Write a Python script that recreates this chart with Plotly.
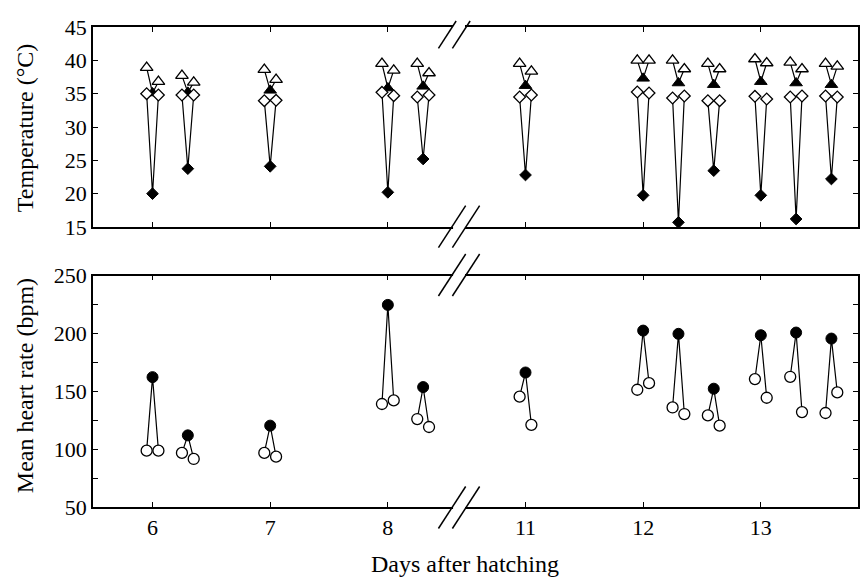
import plotly.graph_objects as go

# ---------------- data ----------------
sample_days = [6, 6.3, 7, 8, 8.3, 11, 12, 12.3, 12.6, 13, 13.3, 13.6]
day_ticks = [6, 7, 8, 11, 12, 13]

# Temperature (°C): open triangles (left/right), filled triangle (middle)
tri_left = [38.9, 37.7, 38.6, 39.5, 39.5, 39.5, 40.0, 40.0, 39.5, 40.2, 39.7, 39.5]
tri_mid = [35.1, 35.2, 35.5, 35.85, 36.1, 36.2, 37.3, 36.6, 36.35, 36.8, 36.6, 36.35]
tri_right = [36.8, 36.7, 37.1, 38.5, 38.1, 38.35, 40.0, 38.7, 38.7, 39.6, 38.7, 39.1]
# open diamonds (left/right), filled diamond (middle)
dia_left = [35.0, 34.8, 33.95, 35.2, 34.5, 34.5, 35.25, 34.35, 33.95, 34.6, 34.5, 34.65]
dia_mid = [20.0, 23.75, 24.1, 20.2, 25.2, 22.8, 19.75, 15.7, 23.45, 19.75, 16.2, 22.2]
dia_right = [34.8, 34.8, 34.0, 34.7, 34.8, 34.8, 35.1, 34.65, 33.95, 34.2, 34.65, 34.5]

# Mean heart rate (bpm)
hr_left = [98.7, 96.7, 96.7, 139, 126, 145.3, 151.3, 136, 129.1, 160.5, 162.5, 131.2]
hr_mid = [162.2, 111.9, 120.3, 224.6, 153.6, 166.2, 202.4, 199.6, 152.2, 198.4, 200.7, 195.5]
hr_right = [98.7, 91.5, 93.5, 142.1, 119.1, 121, 157, 130.3, 120.3, 144.4, 132, 149]

# ---------------- layout helpers ----------------
W, H = 861, 579
ML, MR, MT, MB = 93, 1, 27, 72
PW, PH = W - ML - MR, H - MT - MB
PAIR_OFF = 0.05
BREAK_AT = 10
POS_11 = 9.17


def xpos(d):
    return d if d < BREAK_AT else d - 11 + POS_11


def px(x):
    return (x - ML) / PW


def py(y):
    return (H - MB - y) / PH


FONT = "Liberation Serif"
BLACK = "#000000"

fig = go.Figure()


def add_triplet(left, mid, right, sym, yax, xax):
    xs, ys = [], []
    for d, a, b, c in zip(sample_days, left, mid, right):
        xc = xpos(d)
        xs += [xc - PAIR_OFF, xc, xc + PAIR_OFF, None]
        ys += [a, b, c, None]
    fig.add_trace(go.Scatter(x=xs, y=ys, mode="lines", xaxis=xax, yaxis=yax,
                             line=dict(color=BLACK, width=1.2), showlegend=False,
                             hoverinfo="skip", cliponaxis=False))
    size = {"triangle-up": 11, "diamond": 9, "circle": 11}[sym]
    fig.add_trace(go.Scatter(x=[xpos(d) for d in sample_days], y=mid, mode="markers",
                             xaxis=xax, yaxis=yax,
                             marker=dict(symbol=sym, size=size, color=BLACK,
                                         line=dict(color=BLACK, width=1)),
                             showlegend=False, cliponaxis=False))
    ox, oy = [], []
    for d, a, c in zip(sample_days, left, right):
        xc = xpos(d)
        ox += [xc - PAIR_OFF, xc + PAIR_OFF]
        oy += [a, c]
    fig.add_trace(go.Scatter(x=ox, y=oy, mode="markers", xaxis=xax, yaxis=yax,
                             marker=dict(symbol=sym, size=size, color="white",
                                         line=dict(color=BLACK, width=1.3)),
                             showlegend=False, cliponaxis=False))


add_triplet(tri_left, tri_mid, tri_right, "triangle-up", "y", "x")
add_triplet(dia_left, dia_mid, dia_right, "diamond", "y", "x")
add_triplet(hr_left, hr_mid, hr_right, "circle", "y2", "x2")

xrange = [5.494, 11.996]
tickpos = [xpos(d) for d in day_ticks]
common_axis = dict(showline=True, linecolor=BLACK, linewidth=1.5, mirror="ticks",
                   ticks="inside", ticklen=5, tickwidth=1.2, tickcolor=BLACK,
                   showgrid=False, zeroline=False,
                   tickfont=dict(family=FONT, size=22, color=BLACK))

top_dom = [py(227), 1]
bot_dom = [0, py(275.5)]

hr_ticks = list(range(50, 251, 25))

fig.update_layout(
    width=W, height=H, margin=dict(l=ML, r=MR, t=MT, b=MB),
    paper_bgcolor="white", plot_bgcolor="white",
    xaxis=dict(common_axis, range=xrange, tickvals=tickpos, showticklabels=False,
               anchor="y", domain=[0, 1]),
    yaxis=dict(common_axis, range=[15, 45], tickvals=list(range(15, 46, 5)),
               anchor="x", domain=top_dom),
    xaxis2=dict(common_axis, range=xrange, tickvals=tickpos,
                ticktext=[str(d) for d in day_ticks], anchor="y2", domain=[0, 1]),
    yaxis2=dict(common_axis, range=[50, 250], tickvals=hr_ticks,
                ticktext=[str(v) if v % 50 == 0 else "" for v in hr_ticks],
                anchor="x2", domain=bot_dom),
)

# axis titles
TITLE_SIZE = 24
fig.add_annotation(text="Temperature (°C)", xref="paper", yref="paper",
                   x=px(25), y=py(128), textangle=-90, showarrow=False,
                   xanchor="center", yanchor="middle",
                   font=dict(family=FONT, size=TITLE_SIZE, color=BLACK))
fig.add_annotation(text="Mean heart rate (bpm)", xref="paper", yref="paper",
                   x=px(25), y=py(386), textangle=-90, showarrow=False,
                   xanchor="center", yanchor="middle",
                   font=dict(family=FONT, size=TITLE_SIZE, color=BLACK))
fig.add_annotation(text="Days after hatching", xref="paper", yref="paper",
                   x=px(466), y=py(564), showarrow=False,
                   xanchor="center", yanchor="middle",
                   font=dict(family=FONT, size=TITLE_SIZE, color=BLACK))

# axis break marks
shapes = []
for yl, top_clip in [(27.3, 21), (226.7, None), (275.0, None), (507.5, None)]:
    shapes.append(dict(type="rect", xref="paper", yref="paper", layer="above",
                       x0=px(454), x1=px(466), y0=py(yl + 2.5), y1=py(yl - 2.5),
                       fillcolor="white", line=dict(width=0)))
    for xc in (453, 467):
        dy_low, dy_high = 21, 21
        if top_clip is not None:
            dy_high = yl - top_clip
        shapes.append(dict(type="line", xref="paper", yref="paper", layer="above",
                           x0=px(xc - 0.65 * dy_low), y0=py(yl + dy_low),
                           x1=px(xc + 0.65 * dy_high), y1=py(yl - dy_high),
                           line=dict(color=BLACK, width=1.5)))
fig.update_layout(shapes=shapes)

fig.write_html("out.html")
